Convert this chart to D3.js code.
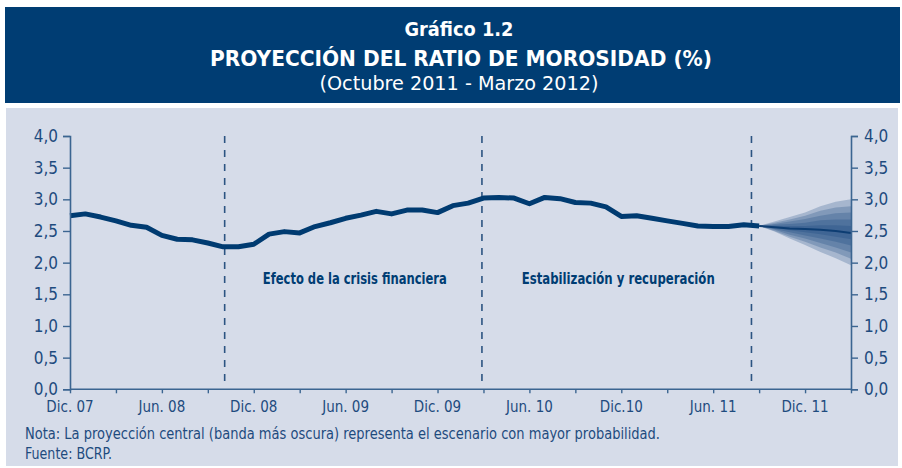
<!DOCTYPE html>
<html>
<head>
<meta charset="utf-8">
<script src="https://cdn.jsdelivr.net/npm/d3@7/dist/d3.min.js"></script>
<style>
  body { margin: 0; background: #fff; }
  svg { display: block; }
</style>
</head>
<body>
<div id="chart"></div>
<script>
// ratio de morosidad mensual, dic.07 - set.11
var morosidad = [2.74, 2.77, 2.72, 2.66, 2.59, 2.56, 2.43, 2.37, 2.36, 2.31, 2.25, 2.25,
	2.29, 2.45, 2.49, 2.47, 2.57, 2.63, 2.70, 2.75, 2.81, 2.77, 2.83, 2.83,
	2.79, 2.90, 2.94, 3.02, 3.03, 3.02, 2.93, 3.03, 3.01, 2.95, 2.94, 2.88,
	2.73, 2.74, 2.70, 2.66, 2.62, 2.58, 2.57, 2.57, 2.60, 2.58];

// proyeccion oct.11 - mar.12 (desde set.11)
var proyCentral = [2.58, 2.56, 2.54, 2.53, 2.52, 2.50, 2.47];
var fanUpper = [
	[2.58, 2.65, 2.72, 2.79, 2.89, 2.96, 3.00],
	[2.58, 2.63, 2.68, 2.74, 2.82, 2.87, 2.89],
	[2.58, 2.61, 2.65, 2.69, 2.74, 2.78, 2.79],
	[2.58, 2.60, 2.61, 2.63, 2.67, 2.68, 2.68],
	[2.58, 2.58, 2.58, 2.58, 2.59, 2.59, 2.58]
];
var fanLower = [
	[2.58, 2.49, 2.38, 2.28, 2.17, 2.07, 1.96],
	[2.58, 2.50, 2.41, 2.33, 2.24, 2.16, 2.06],
	[2.58, 2.52, 2.44, 2.38, 2.31, 2.24, 2.16],
	[2.58, 2.53, 2.48, 2.43, 2.38, 2.33, 2.27],
	[2.58, 2.55, 2.51, 2.48, 2.45, 2.41, 2.37]
];

var xLabels = ['Dic. 07', 'Jun. 08', 'Dic. 08', 'Jun. 09', 'Dic. 09', 'Jun. 10', 'Dic.10', 'Jun. 11', 'Dic. 11'];
var yTicks = [0, 0.5, 1, 1.5, 2, 2.5, 3, 3.5, 4];
var periodBreaks = [10.1, 26.9, 44.5];   // lineas punteadas (en meses desde dic.07)
var periodNames = [
	{ name: 'Efecto de la crisis financiera', at: 18.6, w: 184 },
	{ name: 'Estabilización y recuperación', at: 35.8, w: 193 }
];

var svgWidth = 902,
	svgHeight = 468,
	navy = '#003d73',
	ink = '#1e4b7e',
	axisCol = '#3b6591',
	font = '"DejaVu Sans Condensed", "Liberation Sans Narrow", sans-serif';

var svg = d3.select('#chart')
	.append('svg')
	.attr('width', svgWidth)
	.attr('height', svgHeight);

function label(txt, xx, yy, size, weight, width, anchor) {
	var t = svg.append('text')
		.text(txt)
		.attr('x', xx).attr('y', yy)
		.attr('text-anchor', anchor || 'middle')
		.attr('font-family', font)
		.attr('font-weight', weight)
		.attr('font-size', size);
	if (width) t.attr('textLength', width).attr('lengthAdjust', 'spacingAndGlyphs');
	return t;
}

// cabecera
svg.append('rect')
	.attr('x', 5).attr('y', 7)
	.attr('width', 895).attr('height', 96)
	.attr('fill', navy);

label('Gráfico 1.2', 459, 36, '19px', 'bold', 109).attr('fill', '#fff');
label('PROYECCIÓN DEL RATIO DE MOROSIDAD (%)', 461, 66, '22px', 'bold', 502).attr('fill', '#fff');
label('(Octubre 2011 - Marzo 2012)', 459, 90, '19px', 'normal', 279).attr('fill', '#fff');

// panel
svg.append('rect')
	.attr('x', 6).attr('y', 108)
	.attr('width', 892).attr('height', 358)
	.attr('fill', '#d6dce9');

var x = d3.scaleLinear().domain([0, 51]).range([70, 851]);
var y = d3.scaleLinear().domain([0, 4]).range([389.3, 136]);

var plot = svg.append('g').attr('id', 'plot');

// lineas punteadas de periodos
plot.selectAll('line.period')
	.data(periodBreaks)
	.enter()
	.append('line')
	.attr('class', 'period')
	.attr('x1', function(d) { return x(d); })
	.attr('x2', function(d) { return x(d); })
	.attr('y1', y(4))
	.attr('y2', y(0) - 4)
	.attr('stroke', '#2c5482')
	.attr('stroke-width', 1.6)
	.attr('stroke-dasharray', '7,7');

periodNames.forEach(function(p) {
	label(p.name, x(p.at), 284, '15px', 'bold', p.w).attr('fill', navy);
});

// grafico de abanico
var start = morosidad.length - 1;
var area = d3.area()
	.x(function(d, i) { return x(start + i); })
	.y0(function(d) { return y(d[0]); })
	.y1(function(d) { return y(d[1]); });

fanUpper.forEach(function(up, k) {
	var band = up.map(function(u, i) { return [fanLower[k][i], u]; });
	plot.append('path')
		.datum(band)
		.attr('d', area)
		.attr('fill', '#0b3f78')
		.attr('fill-opacity', 0.24);
});

plot.append('path')
	.datum(proyCentral)
	.attr('d', d3.line()
		.x(function(d, i) { return x(start + i); })
		.y(function(d) { return y(d); }))
	.attr('fill', 'none')
	.attr('stroke', '#0d3d72')
	.attr('stroke-width', 2);

// serie historica
plot.append('path')
	.datum(morosidad)
	.attr('d', d3.line()
		.x(function(d, i) { return x(i); })
		.y(function(d) { return y(d); }))
	.attr('fill', 'none')
	.attr('stroke', '#003b71')
	.attr('stroke-width', 5)
	.attr('stroke-linejoin', 'round');

// ejes
var fmt = function(d) { return d3.format('.1f')(d).replace('.', ','); };

var leftAxis = d3.axisLeft(y)
	.tickValues(yTicks)
	.tickSize(7)
	.tickPadding(5)
	.tickFormat(fmt);

var rightAxis = d3.axisRight(y)
	.tickValues(yTicks)
	.tickSize(7)
	.tickPadding(6)
	.tickFormat(fmt);

var bottomAxis = d3.axisBottom(x)
	.tickValues(d3.range(0, 52, 3))
	.tickSize(4)
	.tickFormat('');

function styleAxis(g) {
	g.select('.domain').attr('stroke', axisCol).attr('stroke-width', 1.6);
	g.selectAll('.tick line').attr('stroke', axisCol).attr('stroke-width', 1.4);
	g.selectAll('.tick text')
		.attr('fill', ink)
		.attr('font-family', font)
		.attr('font-size', '17px');
}

svg.append('g')
	.attr('transform', 'translate(0,' + y(0) + ')')
	.call(bottomAxis)
	.call(styleAxis)
	.select('.domain').attr('d', 'M' + x(0) + ',0H' + x(51));

svg.append('g')
	.attr('transform', 'translate(' + x(0) + ',0)')
	.call(leftAxis)
	.call(styleAxis);

svg.append('g')
	.attr('transform', 'translate(' + x(51) + ',0)')
	.call(rightAxis)
	.call(styleAxis);

svg.selectAll('text.xlab')
	.data(xLabels)
	.enter()
	.append('text')
	.attr('class', 'xlab')
	.text(function(d) { return d; })
	.attr('x', function(d, i) { return x(i * 6); })
	.attr('y', 412)
	.attr('text-anchor', 'middle')
	.attr('font-family', font)
	.attr('font-size', '15px')
	.attr('fill', ink);

// notas
label('Nota: La proyección central (banda más oscura) representa el escenario con mayor probabilidad.',
	25, 439, '15px', 'normal', 635, 'start').attr('fill', ink);
label('Fuente: BCRP.', 25, 459, '15px', 'normal', 87, 'start').attr('fill', ink);
</script>
</body>
</html>
